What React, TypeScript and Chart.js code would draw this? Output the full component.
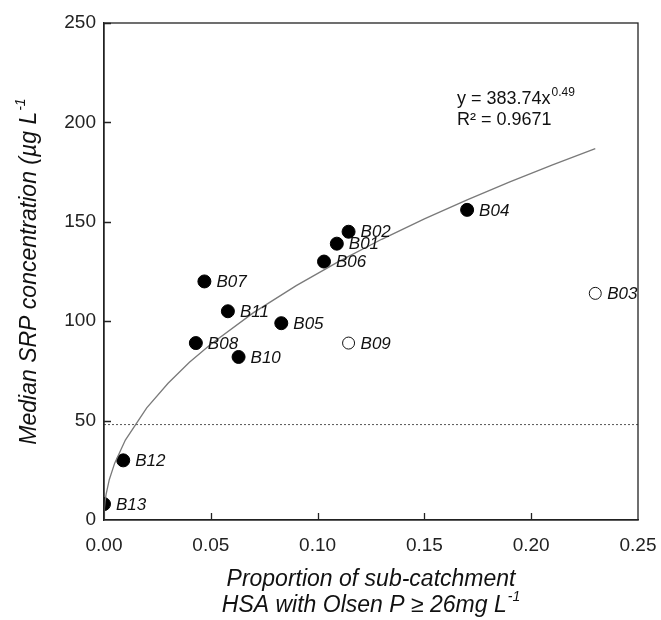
import React, { useEffect, useRef } from "react";
import { Chart, registerables } from "chart.js";

Chart.register(...registerables);

// Sub-catchment sites
const siteNames = ["B01", "B02", "B03", "B04", "B05", "B06", "B07", "B08", "B09", "B10", "B11", "B12", "B13"];
const siteX = [0.109, 0.1145, 0.23, 0.17, 0.083, 0.103, 0.047, 0.043, 0.1145, 0.063, 0.058, 0.009, 0.0];
const siteY = [139, 145, 114, 156, 99, 130, 120, 89, 89, 82, 105, 30, 8];
const openSites = ["B03", "B09"];

// Power trendline (y = 383.74x^0.49)
const trendX = [0, 0.0002, 0.0005, 0.001, 0.0025, 0.005, 0.01, 0.02, 0.03, 0.04, 0.05, 0.07, 0.09, 0.11, 0.13, 0.15, 0.17, 0.19, 0.21, 0.23];
const trendY = [0, 5.9, 9.3, 13.0, 20.4, 28.6, 40.2, 56.4, 68.8, 79.3, 88.4, 104.3, 117.9, 130.1, 141.2, 151.5, 161.0, 170.1, 178.6, 186.8];

// Threshold (dotted) line
const thresholdX = [0, 0.25];
const thresholdY = [48, 48];

const xTicks = [0, 0.05, 0.1, 0.15, 0.2, 0.25];
const yTicks = [0, 50, 100, 150, 200, 250];

const FONT = "'Liberation Sans', Arial, sans-serif";

function drawSup(ctx: any, base: string, sup: string, x: number, y: number, size: number, italic: boolean) {
  const st = italic ? "italic " : "";
  ctx.font = `${st}${size}px ${FONT}`;
  const wb = ctx.measureText(base).width;
  const supSize = Math.round(size * 0.62);
  ctx.font = `${st}${supSize}px ${FONT}`;
  const ws = ctx.measureText(sup).width;
  const total = wb + 1 + ws;
  const start = x - total / 2;
  ctx.textAlign = "left";
  ctx.font = `${st}${size}px ${FONT}`;
  ctx.fillText(base, start, y);
  ctx.font = `${st}${supSize}px ${FONT}`;
  ctx.fillText(sup, start + wb + 1, y - size * 0.38);
}

export default function App() {
  const ref = useRef<HTMLCanvasElement | null>(null);

  useEffect(() => {
    if (!ref.current) return;
    const filled = siteNames
      .map((n, i) => ({ x: siteX[i], y: siteY[i], name: n }))
      .filter((p) => !openSites.includes(p.name));
    const open = siteNames
      .map((n, i) => ({ x: siteX[i], y: siteY[i], name: n }))
      .filter((p) => openSites.includes(p.name));

    const overlay = {
      id: "overlay",
      afterDatasetsDraw(chart: any) {
        const ctx = chart.ctx;
        const a = chart.chartArea;
        const xs = chart.scales.x;
        const ys = chart.scales.y;
        ctx.save();
        // box
        ctx.strokeStyle = "#222";
        ctx.lineWidth = 1.3;
        ctx.strokeRect(a.left, a.top, a.right - a.left, a.bottom - a.top);
        // inward ticks
        ctx.beginPath();
        for (const v of yTicks) {
          if (v === 0) continue;
          const py = Math.round(ys.getPixelForValue(v)) + 0.5;
          ctx.moveTo(a.left, py);
          ctx.lineTo(a.left + 7, py);
        }
        for (const v of xTicks) {
          if (v === 0 || v === 0.25) continue;
          const px = Math.round(xs.getPixelForValue(v)) + 0.5;
          ctx.moveTo(px, a.bottom);
          ctx.lineTo(px, a.bottom - 7);
        }
        ctx.stroke();

        // point labels
        ctx.fillStyle = "#111";
        ctx.font = `italic 17px ${FONT}`;
        ctx.textBaseline = "middle";
        ctx.textAlign = "left";
        siteNames.forEach((n, i) => {
          const px = xs.getPixelForValue(siteX[i]);
          const py = ys.getPixelForValue(siteY[i]);
          ctx.fillText(n, px + 12, py + 1);
        });

        // equation
        ctx.textBaseline = "alphabetic";
        ctx.font = `18px ${FONT}`;
        const ex = 457;
        const e1 = "y = 383.74x";
        ctx.fillText(e1, ex, 104);
        const w1 = ctx.measureText(e1).width;
        ctx.font = `12px ${FONT}`;
        ctx.fillText("0.49", ex + w1 + 1, 96);
        ctx.font = `18px ${FONT}`;
        ctx.fillText("R² = 0.9671", ex, 125);

        // axis titles
        ctx.textBaseline = "middle";
        const cx = (a.left + a.right) / 2;
        ctx.font = `italic 23px ${FONT}`;
        ctx.textAlign = "center";
        ctx.fillText("Proportion of sub-catchment", cx, 580);
        drawSup(ctx, "HSA with Olsen P ≥ 26mg L", "-1", cx, 606, 23, true);
        ctx.translate(30, (a.top + a.bottom) / 2);
        ctx.rotate(-Math.PI / 2);
        drawSup(ctx, "Median SRP concentration (µg L", "-1", 0, 0, 23, true);
        ctx.restore();
      },
    };

    const chart = new Chart(ref.current, {
      type: "scatter",
      data: {
        datasets: [
          {
            label: "trend",
            data: trendX.map((x, i) => ({ x, y: trendY[i] })),
            showLine: true,
            borderColor: "#7a7a7a",
            borderWidth: 1.3,
            pointRadius: 0,
            tension: 0,
          },
          {
            label: "threshold",
            data: thresholdX.map((x, i) => ({ x, y: thresholdY[i] })),
            showLine: true,
            borderColor: "#555",
            borderWidth: 1,
            borderDash: [2, 2],
            pointRadius: 0,
          },
          {
            label: "filled",
            data: filled,
            pointRadius: 6.5,
            backgroundColor: "#000",
            borderColor: "#000",
            borderWidth: 1,
          },
          {
            label: "open",
            data: open,
            pointRadius: 6,
            backgroundColor: "#fff",
            borderColor: "#111",
            borderWidth: 1,
          },
        ],
      },
      options: {
        animation: false,
        responsive: false,
        maintainAspectRatio: false,
        layout: { padding: { top: 23, right: 23, left: 0, bottom: 0 } },
        plugins: { legend: { display: false }, tooltip: { enabled: false } },
        scales: {
          x: {
            type: "linear",
            min: 0,
            max: 0.25,
            afterBuildTicks: (s: any) => {
              s.ticks = xTicks.map((v) => ({ value: v }));
            },
            afterFit: (s: any) => {
              s.height = 100;
              s.paddingLeft = 0;
              s.paddingRight = 0;
            },
            ticks: {
              callback: (v: any) => Number(v).toFixed(2),
              font: { family: FONT, size: 19 },
              color: "#222",
              padding: 14,
              maxRotation: 0,
            },
            grid: { display: false, drawTicks: false },
            border: { display: true, color: "#222", width: 1.3 },
          },
          y: {
            type: "linear",
            min: 0,
            max: 250,
            afterBuildTicks: (s: any) => {
              s.ticks = yTicks.map((v) => ({ value: v }));
            },
            afterFit: (s: any) => {
              s.width = 104;
              s.paddingTop = 0;
              s.paddingBottom = 0;
            },
            ticks: {
              font: { family: FONT, size: 19 },
              color: "#222",
              padding: 8,
            },
            grid: { display: false, drawTicks: false },
            border: { display: true, color: "#222", width: 1.3 },
          },
        },
      },
      plugins: [overlay],
    } as any);
    return () => chart.destroy();
  }, []);

  return (
    <div style={{ position: "absolute", left: 0, top: 0, width: 661, height: 620, background: "#fff" }}>
      <canvas ref={ref} width={661} height={620} style={{ display: "block" }} />
    </div>
  );
}
